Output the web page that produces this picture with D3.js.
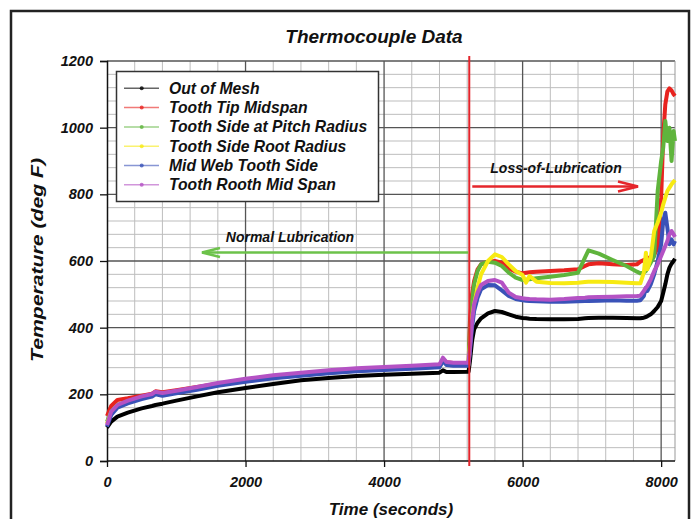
<!DOCTYPE html>
<html><head><meta charset="utf-8">
<script src="https://cdn.jsdelivr.net/npm/d3@7"></script>
<style>
body{margin:0;background:#fff;}
svg{display:block;}
text{font-family:"Liberation Sans",Arial,sans-serif;font-weight:bold;font-style:italic;fill:#111;}
</style></head>
<body><svg id="c" width="693" height="519"></svg>
<script>
const seriesNames = ["Out of Mesh","Tooth Tip Midspan","Tooth Side at Pitch Radius","Tooth Side Root Radius","Mid Web Tooth Side","Tooth Rooth Mid Span"];
const seriesColors = ["#000000","#e8231f","#5fb43c","#f7ea12","#3a52b8","#b452c4"];
const timeSec = [0,60,150,300,500,650,700,800,1000,1300,1600,2000,2400,2800,3200,3600,4000,4400,4800,4850,4900,5000,5220,5240,5270,5300,5350,5400,5500,5600,5700,5800,5900,6000,6050,6100,6200,6400,6600,6800,6900,6950,7100,7300,7500,7650,7700,7750,7780,7800,7850,7900,7950,8000,8030,8060,8090,8120,8150,8180,8200];
const outOfMesh = [100,118,133,145,158,165,168,172,181,194,206,219,231,242,249,255,259,262,265,272,267,267,268,300,360,395,415,428,443,450,447,440,433,429,428,427,426,425,425,426,428,429,430,430,429,428,428,430,432,434,440,450,462,480,505,530,560,580,592,600,607];
const toothTip = [135,165,183,188,196,202,209,206,212,222,232,243,252,261,268,274,279,283,287,305,296,294,294,420,500,540,575,590,598,600,595,578,568,563,565,566,568,570,572,575,585,590,593,590,588,590,598,603,606,608,612,618,640,790,975,1070,1108,1118,1112,1100,1095];
const sidePitch = [118,148,168,178,190,197,204,200,207,218,228,240,250,258,265,271,275,279,283,302,291,289,289,400,480,530,570,590,598,595,585,565,550,543,544,545,548,553,558,565,610,632,622,603,585,568,563,565,570,578,595,615,810,900,940,1020,960,1000,900,990,960];
const sideRoot = [112,145,167,178,191,198,205,201,208,219,230,242,252,260,267,273,277,281,285,304,293,291,291,350,430,470,520,560,600,620,612,590,570,558,535,555,538,534,533,535,537,538,538,537,535,533,533,565,625,575,610,690,715,745,770,790,810,820,830,838,843];
const midWeb = [103,138,160,173,186,193,200,196,203,214,226,238,248,256,263,269,273,277,281,300,288,286,286,330,400,450,490,515,528,527,512,495,486,482,481,480,479,478,478,479,480,480,481,482,481,481,482,495,520,510,530,560,600,650,720,745,700,650,665,650,660];
const rootMid = [108,148,168,181,194,201,208,204,211,222,234,247,257,265,272,278,282,286,290,310,297,295,295,340,420,470,505,528,540,543,535,505,492,488,487,486,485,484,486,489,490,491,492,493,494,495,496,510,520,525,545,570,590,615,630,645,660,680,690,680,672];
const seriesValues = [outOfMesh, toothTip, sidePitch, sideRoot, midWeb, rootMid];
const xTicks = [0,2000,4000,6000,8000];
const yTicks = [0,200,400,600,800,1000,1200];
const lubricationChange = 5230;

const svg = d3.select("#c");
const L=107,R=675,T=61,B=461;
const x = d3.scaleLinear().domain([0,8200]).range([L,R]);
const y = d3.scaleLinear().domain([0,1200]).range([B,T]);

// outer frame
svg.append("rect").attr("x",11).attr("y",11).attr("width",678).attr("height",530)
  .attr("fill","none").attr("stroke","#222").attr("stroke-width",2.5);

// title
svg.append("text").attr("x",374).attr("y",43).attr("text-anchor","middle")
  .style("font-size","19px").text("Thermocouple Data");

// grid
const g = svg.append("g");
const minorX = d3.range(400,8200,400).filter(v=>v%2000!==0);
const minorY = d3.range(40,1200,40).filter(v=>v%200!==0);
g.selectAll(".mx").data(minorX).join("line").attr("x1",d=>x(d)).attr("x2",d=>x(d)).attr("y1",T).attr("y2",B).attr("stroke","#bdbdbd").attr("stroke-width",1);
g.selectAll(".my").data(minorY).join("line").attr("x1",L).attr("x2",R).attr("y1",d=>y(d)).attr("y2",d=>y(d)).attr("stroke","#bdbdbd").attr("stroke-width",1);
g.selectAll(".Mx").data(xTicks.slice(1)).join("line").attr("x1",d=>x(d)).attr("x2",d=>x(d)).attr("y1",T).attr("y2",B).attr("stroke","#555").attr("stroke-width",1.3);
g.selectAll(".My").data(yTicks.slice(1)).join("line").attr("x1",L).attr("x2",R).attr("y1",d=>y(d)).attr("y2",d=>y(d)).attr("stroke","#555").attr("stroke-width",1.3);
g.append("line").attr("x1",R).attr("x2",R).attr("y1",T).attr("y2",B).attr("stroke","#999");

// axes
const xAxis = svg.append("g").attr("transform",`translate(0,${B})`)
  .call(d3.axisBottom(x).tickValues(xTicks).tickSize(6).tickPadding(10).tickFormat(d3.format("d")));
const yAxis = svg.append("g").attr("transform",`translate(${L},0)`)
  .call(d3.axisLeft(y).tickValues(yTicks).tickSize(7).tickPadding(7).tickFormat(d3.format("d")));
[xAxis,yAxis].forEach(a=>{
  a.select(".domain").attr("stroke","#111").attr("stroke-width",1.5);
  a.selectAll(".tick line").attr("stroke","#111").attr("stroke-width",1.3);
  a.selectAll("text").style("font-size","14.5px").style("font-family","'Liberation Sans',Arial,sans-serif").style("font-weight","bold").style("font-style","italic").attr("fill","#111");
});
xAxis.select(".domain").attr("d",`M${L},0H${R}`);

svg.append("text").attr("x",391).attr("y",515).attr("text-anchor","middle").style("font-size","17px").text("Time (seconds)");
svg.append("text").attr("transform","translate(43,260) rotate(-90)").attr("text-anchor","middle")
  .style("font-size","17px").attr("textLength",204).attr("lengthAdjust","spacingAndGlyphs").text("Temperature (deg F)");

// data lines
const line = d3.line().x((d,i)=>x(timeSec[i])).y(d=>y(d));
svg.append("g").selectAll("path").data(seriesValues).join("path")
  .attr("d",d=>line(d)).attr("fill","none")
  .attr("stroke",(d,i)=>seriesColors[i]).attr("stroke-width",4).attr("stroke-linejoin","round");

// red vertical line
svg.append("line").attr("x1",x(lubricationChange)).attr("x2",x(lubricationChange)).attr("y1",T-5).attr("y2",B+5)
  .attr("stroke","#e3242b").attr("stroke-width",2);

// annotations
function arrow(x1,x2,yy,color,head,hh){
  const a = svg.append("g").attr("stroke",color).attr("stroke-width",2.5).attr("fill","none");
  a.append("line").attr("x1",x1).attr("x2",x2).attr("y1",yy).attr("y2",yy);
  const dir = x2>x1?-1:1;
  a.append("path").attr("d",`M${x2+dir*head},${yy-hh}L${x2},${yy}L${x2+dir*head},${yy+hh}`);
}
arrow(x(lubricationChange)-1,202,252.5,"#6cc24a",18,4.5);
svg.append("text").attr("x",290).attr("y",242).attr("text-anchor","middle").style("font-size","14px").attr("fill","#222").text("Normal Lubrication");
arrow(x(lubricationChange)+3,638,186.5,"#e5262b",20,5);
svg.append("text").attr("x",556).attr("y",173).attr("text-anchor","middle").style("font-size","14px").attr("fill","#222").text("Loss-of-Lubrication");

// legend
const lg = svg.append("g");
lg.append("rect").attr("x",116.5).attr("y",71.5).attr("width",262).attr("height",130).attr("fill","#fff").attr("stroke","#333").attr("stroke-width",1.5);
const rows = lg.selectAll("g.r").data(seriesNames).join("g").attr("transform",(d,i)=>`translate(0,${88.3+i*19.3})`);
rows.append("line").attr("x1",124).attr("x2",159).attr("stroke",(d,i)=>seriesColors[i]).attr("stroke-width",1.5).attr("opacity",0.6);
rows.append("circle").attr("cx",141.7).attr("r",2).attr("fill",(d,i)=>seriesColors[i]).attr("opacity",0.8);
rows.append("text").attr("x",169).attr("dy","0.35em").style("font-size","15.7px").attr("fill","#222").text(d=>d);
</script></body></html>
